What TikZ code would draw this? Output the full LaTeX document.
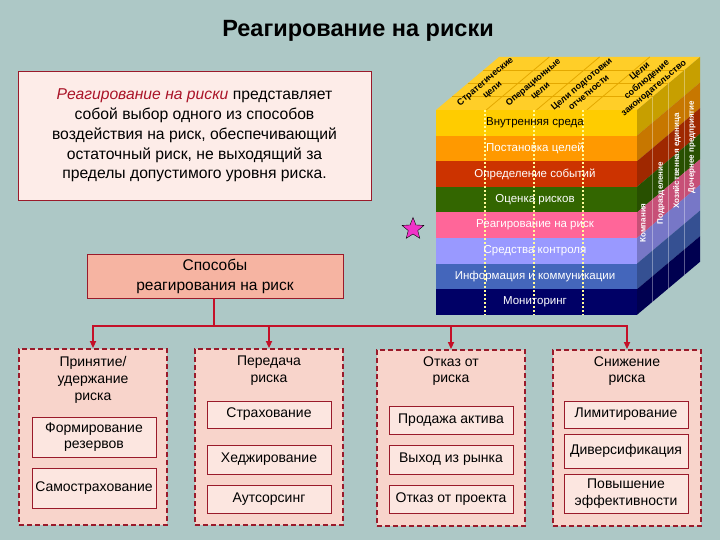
\documentclass[tikz,border=0pt]{standalone}
\usepackage{fontspec}
\setmainfont{Liberation Sans}
\usetikzlibrary{positioning,shapes.geometric,arrows.meta}

\definecolor{bg}{RGB}{173,200,198}
\definecolor{boxred}{RGB}{154,26,42}
\definecolor{linered}{RGB}{196,16,40}
\definecolor{notered}{RGB}{170,20,40}
\definecolor{notefill}{RGB}{253,236,232}
\definecolor{wayhead}{RGB}{246,180,162}
\definecolor{wayfill}{RGB}{248,212,203}
\definecolor{itemfill}{RGB}{252,230,224}
\definecolor{topface}{RGB}{255,206,40}
\definecolor{topline}{RGB}{228,168,0}
\definecolor{starpink}{RGB}{240,50,200}
\definecolor{c1}{RGB}{255,204,0}
\definecolor{c2}{RGB}{255,153,0}
\definecolor{c3}{RGB}{204,51,0}
\definecolor{c4}{RGB}{51,102,0}
\definecolor{c5}{RGB}{255,102,153}
\definecolor{c6}{RGB}{153,153,255}
\definecolor{c7}{RGB}{68,102,187}
\definecolor{c8}{RGB}{0,0,102}

\tikzset{
  conn/.style={draw=linered, line width=1.6pt},
  way/.style={draw=boxred, fill=wayfill, line width=1.8pt, dash pattern=on 5pt off 3pt,
    minimum width=148pt, minimum height=176pt},
  waytitle/.style={align=center, font=\fontsize{14}{16.8}\selectfont, inner sep=0pt},
  item/.style={draw=boxred, fill=itemfill, line width=0.8pt, align=center,
    font=\fontsize{14}{16.5}\selectfont, inner sep=1pt, minimum width=124pt},
  layer/.style={font=\fontsize{11.5}{13}\selectfont},
  unit/.style={rotate=90, text=white, font=\bfseries\fontsize{8}{9}\selectfont},
  goal/.style={rotate=40, align=center, font=\bfseries\fontsize{9}{11}\selectfont, inner sep=0pt},
}

\begin{document}
\begin{tikzpicture}[x=1pt,y=-1pt]
  \fill[bg] (0,0) rectangle (720,540);
  \useasboundingbox (0,0) rectangle (720,540);

  \node[font=\bfseries\fontsize{23.5}{28}\selectfont] (title) at (358,31) {Реагирование на риски};

  % cube
  \fill[topface] (436,110) -- (499,57) -- (700,57) -- (637,110) -- cycle;
  \foreach \k in {1,2,3} {
    \draw[topline, line width=0.8pt] (436+50.25*\k,110) -- ++(63,-53);
    \draw[topline, line width=0.8pt] (436+15.75*\k,110-13.25*\k) -- ++(201,0);
  }
  \foreach \c [count=\i] in {c1,c2,c3,c4,c5,c6,c7,c8} {
    \fill[\c] (436,84.4+25.6*\i) rectangle (637,110+25.6*\i);
    \fill[fill=\c!78!black] (637,84.4+25.6*\i) -- ++(63,-53) -- ++(0,25.6) -- ++(-63,53) -- cycle;
  }
  \foreach \k in {1,2,3} {
    \draw[white, opacity=0.35, line width=0.8pt] (637+15.75*\k,110-13.25*\k) -- ++(0,205);
    \draw[yellow!40, line width=1.2pt, dash pattern=on 2pt off 2pt] (436+49*\k,110) -- ++(0,205);
  }

  \foreach \t/\tc [count=\i] in {Внутренняя среда/black, Постановка целей/white,
      Определение событий/white, Оценка рисков/white, Реагирование на риск/white,
      Средства контроля/white, Информация и коммуникации/white, Мониторинг/white} {
    \node[layer, text=\tc] (layer\i) at (535,97.2+25.6*\i) {\t};
  }

  \node[unit] (unit1) at (643,223) {Компания};
  \node[unit] (unit2) at (661,193) {Подразделение};
  \node[unit] (unit3) at (677,161) {Хозяйственная единица};
  \node[unit] (unit4) at (692,147) {Дочернее предприятие};

  \node[goal] (goal1) at (489,86) {Стратегические\\цели};
  \node[goal] (goal2) at (537,87) {Операционные\\цели};
  \node[goal] (goal3) at (585,88) {Цели подготовки\\отчетности};
  \node[goal] (goal4) at (647,80) {Цели\\соблюдение\\законодательство};

  \node[star, star points=5, star point ratio=2.3, fill=starpink, draw=black,
    minimum size=23pt, inner sep=0pt] (pin) at (413,229) {};

  \node[draw=boxred, fill=notefill, line width=0.8pt, minimum width=353pt, minimum height=129pt,
    align=center, font=\fontsize{15.7}{19.8}\selectfont] (note) at (194.5,135.5)
    {\textcolor{notered}{\itshape Реагирование на риски} представляет\\
     собой выбор одного из способов\\
     воздействия на риск, обеспечивающий\\
     остаточный риск, не выходящий за\\
     пределы допустимого уровня риска.};

  \node[draw=boxred, fill=wayhead, line width=0.8pt, minimum width=256pt, minimum height=44pt,
    align=center, font=\fontsize{15.5}{20}\selectfont] (ways) at (215,276)
    {Способы\\реагирования на риск};

  \node[way] (acc) at (93,437) {};
  \node[way] (trf) at (269,437) {};
  \node[way] (avd) at (451,438) {};
  \node[way] (rdc) at (627,438) {};

  \node[waytitle] (acct) at (93,380) {Принятие/\\удержание\\риска};
  \node[waytitle] (trft) at (269,371) {Передача\\риска};
  \node[waytitle] (avdt) at (451,371) {Отказ от\\риска};
  \node[waytitle] (rdct) at (627,371) {Снижение\\риска};

  \node[item, minimum height=40pt] (acc1) at (94,437) {Формирование\\резервов};
  \node[item, minimum height=40pt] (acc2) at (94,488) {Самострахование};

  \node[item, minimum height=27pt] (trf1) at (269,414.5) {Страхование};
  \node[item, minimum height=29pt] (trf2) at (269,459.5) {Хеджирование};
  \node[item, minimum height=28pt] (trf3) at (269,499) {Аутсорсинг};

  \node[item, minimum height=28pt] (avd1) at (451,420) {Продажа актива};
  \node[item, minimum height=29pt] (avd2) at (451,459.5) {Выход из рынка};
  \node[item, minimum height=28pt] (avd3) at (451,499) {Отказ от проекта};

  \node[item, minimum height=27pt] (rdc1) at (626,414.5) {Лимитирование};
  \node[item, minimum height=34pt] (rdc2) at (626,451) {Диверсификация};
  \node[item, minimum height=39pt] (rdc3) at (626,493.5) {Повышение\\эффективности};

  \coordinate (fork) at (214,326);
  \draw[conn] (ways.south -| fork) -- (fork);
  \foreach \b in {acc,trf,avd,rdc} {
    \draw[conn, -{Triangle[length=7pt,width=6pt]}] (fork) -| (\b.north);
  }
\end{tikzpicture}
\end{document}
